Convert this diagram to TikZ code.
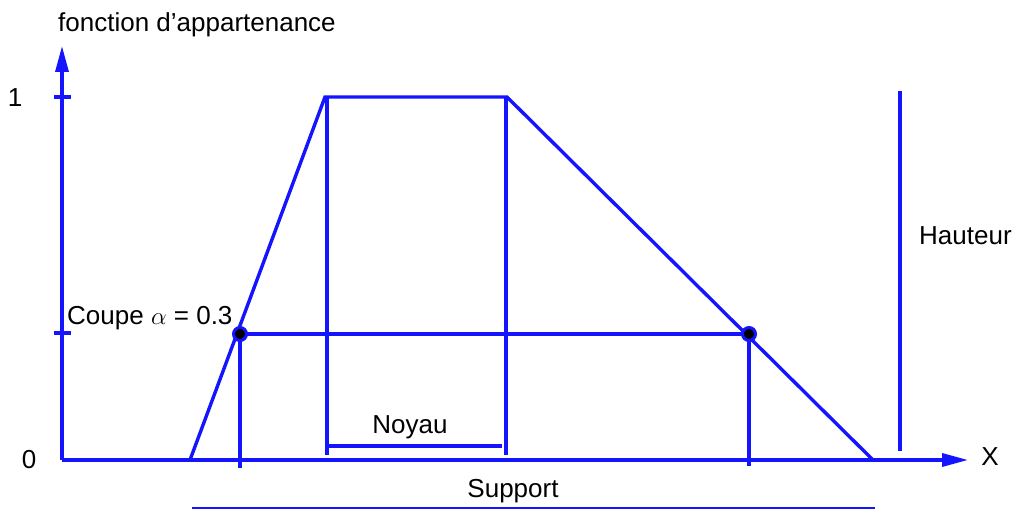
\documentclass[tikz,border=0pt]{standalone}
\usepackage{fontspec}
\setmainfont{Liberation Sans}
\usetikzlibrary{arrows.meta}
\definecolor{lblue}{RGB}{20,20,255}
\tikzset{
  curve/.style={draw=lblue,line width=3.4pt},
  thinline/.style={draw=lblue,line width=1.6pt},
  axis/.style={draw=lblue,line width=3.4pt,-{Triangle[length=26pt,width=13pt]}},
  lbl/.style={inner sep=0pt,font=\fontsize{26}{30}\selectfont},
  dot/.style={circle,fill=black,draw=lblue,line width=3pt,minimum size=13pt,inner sep=0pt}
}
\begin{document}
\begin{tikzpicture}[x=1pt,y=-1pt]
\useasboundingbox (0,0) rectangle (1017,510);
% coordinates
\coordinate (O) at (62,460);
\coordinate (Ytop) at (62,46);
\coordinate (Xend) at (968,460);
\coordinate (A) at (190,460);
\coordinate (B) at (325,97);
\coordinate (C) at (507,97);
\coordinate (D) at (873,460);
\coordinate (T1a) at (54,97);
\coordinate (T1b) at (71,97);
\coordinate (T3a) at (54,333);
\coordinate (T3b) at (71,333);
\coordinate (NLt) at (327,97);
\coordinate (NLb) at (327,455);
\coordinate (NRt) at (506,97);
\coordinate (NRb) at (506,455);
\coordinate (NoyL) at (327,446);
\coordinate (NoyR) at (502,446);
\coordinate (CL) at (240,334);
\coordinate (CR) at (749,334);
\coordinate (CLb) at (240,468);
\coordinate (CRb) at (749,466);
\coordinate (Ht) at (900,91);
\coordinate (Hb) at (900,451);
\coordinate (SL) at (192,508);
\coordinate (SR) at (875,508);
% axes
\draw[axis] (O) -- (Ytop);
\draw[axis] (O) -- (Xend);
\draw[curve] (T1a) -- (T1b);
\draw[curve] (T3a) -- (T3b);
% trapezoid
\draw[curve,line join=miter] (A) -- (B) -- (C) -- (D);
% noyau
\draw[curve] (NLt) -- (NLb);
\draw[curve] (NRt) -- (NRb);
\draw[curve] (NoyL) -- (NoyR);
% alpha cut
\draw[curve] (CL) -- (CR);
\draw[curve] (CL) -- (CLb);
\draw[curve] (CR) -- (CRb);
\node[dot] (dL) at (CL) {};
\node[dot] (dR) at (CR) {};
% hauteur
\draw[curve] (Ht) -- (Hb);
% support
\draw[thinline] (SL) -- (SR);
% labels
\node[lbl,anchor=west] (lf) at (58,25) {fonction d\symbol{"27}appartenance};
\node[lbl] (l1) at (15,98) {1};
\node[lbl] (l0) at (29,460) {0};
\node[lbl,anchor=west] (lc) at (67,318) {Coupe $\alpha$ = 0.3};
\node[lbl] (ln) at (410,427) {Noyau};
\node[lbl] (ls) at (513,491) {Support};
\node[lbl,anchor=west] (lh) at (919,236) {Hauteur};
\node[lbl] (lx) at (990,457) {X};
\end{tikzpicture}
\end{document}
